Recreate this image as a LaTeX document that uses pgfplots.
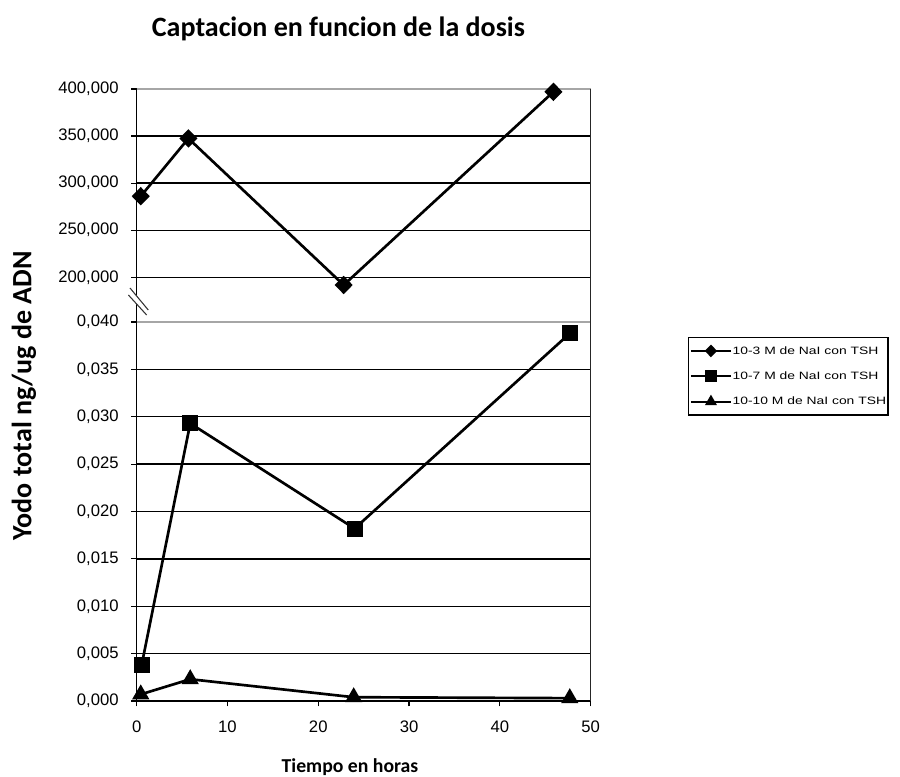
\documentclass[border=0pt]{standalone}
\usepackage{fontspec}
\setmainfont{Liberation Sans}
\newfontfamily\titlefont{Carlito}
\newfontfamily\legfont{Liberation Sans}[FakeStretch=1.3]
\usepackage{pgfplots}
\pgfplotsset{compat=1.18}

\pgfplotstableread{
x y
0.45 286.1
5.7 347.5
22.8 191.8
45.9 397.0
}\dataA
\pgfplotstableread{
x y
0.55 0.0038
5.9 0.0293
24.0 0.0182
47.7 0.0388
}\dataB
\pgfplotstableread{
x y
0.45 0.0007
5.9 0.0023
23.9 0.0004
47.7 0.0003
}\dataC

\begin{document}
\begin{tikzpicture}
\useasboundingbox (-102.5pt,-56.25pt) rectangle (572.5pt,525.75pt);
\pgfplotsset{
  common/.style={
    scale only axis, width=340.5pt,
    xmin=0, xmax=50,
    /pgf/number format/assume math mode=true,
    tick label style={font=\fontsize{12.5}{15}\selectfont},
    tick align=outside, major tick length=4pt,
    tick style={black, line width=0.9pt},
    ymajorgrids, grid style={black, line width=1pt},
    axis line style={black, line width=1pt},
    scaled y ticks=false,
    y tick label style={xshift=-6pt, /pgf/number format/fixed, /pgf/number format/fixed zerofill, /pgf/number format/precision=3, /pgf/number format/use comma},
    clip=false,
  },
  serie/.style={black, line width=2pt, mark options={solid, fill=black}},
}
% lower axis
\begin{axis}[common,
  at={(0pt,0pt)}, anchor=south west,
  height=284.25pt,
  ymin=0, ymax=0.04,
  ytick={0,0.005,...,0.0401},
  xtick={0,10,...,50},
  x tick label style={yshift=-7pt},
  axis x line*=bottom, axis y line*=left,
  legend style={at={(rel axis cs:1.2143,0.9604)}, anchor=north west,
    draw=black, line width=0.9pt, font=\legfont\fontsize{8}{10}\selectfont,
    inner xsep=1pt, inner ysep=5pt, row sep=9pt,
    nodes={inner sep=0.5pt, text height=7pt, text depth=2pt},
    cells={anchor=west}},
  legend image code/.code={\draw[mark repeat=2,mark phase=2, line width=1.6pt, mark size=3.6pt]
      plot coordinates {(0pt,0pt) (15pt,0pt) (30pt,0pt)};},
]
\addlegendimage{serie, mark=diamond*, mark options={xscale=1.3}}
\addlegendentry{10-3 M de NaI con TSH}
\addplot[serie, mark=square*, mark size=5pt] table {\dataB};
\addlegendentry{10-7 M de NaI con TSH}
\addplot[serie, mark=triangle*, mark size=5.5pt] table {\dataC};
\addlegendentry{10-10 M de NaI con TSH}
\draw[gray!70, line width=1pt] (rel axis cs:0,1) -- (rel axis cs:1,1);
\end{axis}
% upper axis
\begin{axis}[common,
  at={(0pt,284.25pt)}, anchor=south west,
  height=174.75pt,
  ymin=152.5, ymax=400,
  ytick={200,250,...,400},
  axis x line=none, axis y line*=left,
]
\addplot[serie, mark=diamond*, mark size=5.5pt, mark options={xscale=1.3}] table {\dataA};
\draw[gray!70, line width=1pt] (rel axis cs:0,1) -- (rel axis cs:1,1);
\end{axis}
% right border
\draw[black!85, line width=1pt] (340.5pt,0pt) -- (340.5pt,459pt);
% axis break
\fill[white] (-5pt,309.75pt) -- (8.7pt,293.25pt) -- (7.5pt,289.5pt) -- (-6.2pt,304.5pt) -- cycle;
\draw[black!80, line width=0.8pt] (-5pt,309.75pt) -- (8.7pt,293.25pt);
\draw[black!80, line width=0.8pt] (-6.2pt,304.5pt) -- (7.5pt,289.5pt);
% titles
\node[font=\titlefont\bfseries\fontsize{21}{24}\selectfont] at (151.3pt,504pt) {Captacion en funcion de la dosis};
\node[font=\titlefont\bfseries\fontsize{21}{24}\selectfont, rotate=90] at (-84.5pt,228.75pt) {Yodo total ng/ug de ADN};
\node[font=\titlefont\bfseries\fontsize{14.8}{17}\selectfont] at (160pt,-49.5pt) {Tiempo en horas};
\end{tikzpicture}
\end{document}
